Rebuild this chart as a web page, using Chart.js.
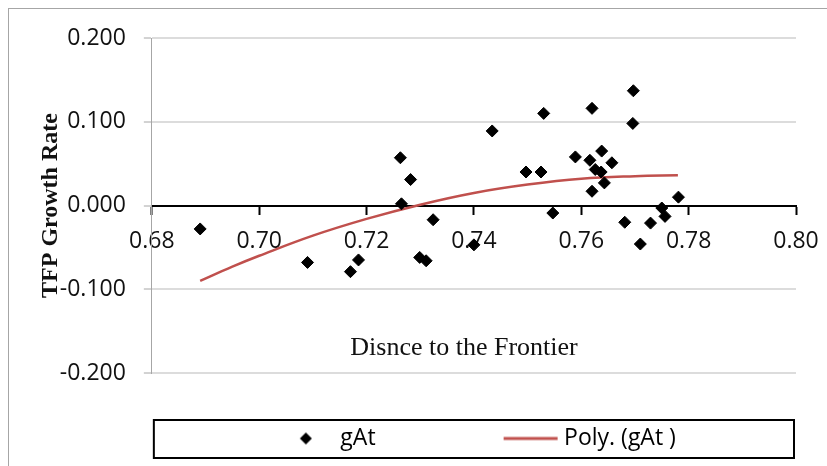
<!DOCTYPE html>
<html>
<head>
<meta charset="utf-8">
<script src="https://cdn.jsdelivr.net/npm/chart.js@4.4.1/dist/chart.umd.min.js"></script>
<style>
  html, body { margin: 0; padding: 0; background: #fff; }
  #wrap { width: 827px; height: 466px; }
</style>
</head>
<body>
<div id="wrap"><canvas id="tfpChart" width="827" height="466"></canvas></div>
<script>
// distance to the frontier (x) and TFP growth rate (y), one entry per observation
const distance = [0.689, 0.709, 0.717, 0.7185, 0.7263, 0.7265, 0.7282, 0.7299, 0.7311, 0.7324,
                  0.740, 0.7434, 0.7497, 0.7525, 0.7530, 0.7547, 0.7589, 0.7616, 0.7620, 0.7620,
                  0.7638, 0.7657, 0.7626, 0.7637, 0.7643, 0.7681, 0.7697, 0.7696, 0.7710, 0.7729,
                  0.7750, 0.7756, 0.7781];
const growth = [-0.028, -0.068, -0.079, -0.065, 0.057, 0.002, 0.031, -0.062, -0.066, -0.017,
                -0.047, 0.089, 0.040, 0.040, 0.110, -0.009, 0.058, 0.054, 0.116, 0.017,
                0.065, 0.051, 0.043, 0.040, 0.027, -0.020, 0.137, 0.098, -0.046, -0.021,
                -0.003, -0.013, 0.010];

// polynomial trend line as drawn in the figure
const trendX = [0.689, 0.695, 0.700, 0.710, 0.720, 0.730, 0.740, 0.750, 0.760, 0.770, 0.778];
const trendY = [-0.090, -0.073, -0.060, -0.036, -0.016, 0.001, 0.015, 0.025, 0.032, 0.035, 0.036];

const seriesNames = ['gAt', 'Poly. (gAt )'];
const xTicks = [0.68, 0.70, 0.72, 0.74, 0.76, 0.78, 0.80];
const yTicks = [-0.2, -0.1, 0, 0.1, 0.2];
const axisTitles = ['Disnce to the Frontier', 'TFP Growth Rate'];

const sans = "'Open Sans', sans-serif";
const trendColor = '#C0504D';

// legend icons (diamond / short line), drawn into small canvases
function legendIcon(kind) {
    const c = document.createElement('canvas');
    const g = c.getContext('2d');
    if (kind === 'diamond') {
        c.width = 123; c.height = 16;
        g.fillStyle = '#000';
        g.beginPath();
        g.moveTo(100 - 6, 8); g.lineTo(100, 2); g.lineTo(100 + 6, 8); g.lineTo(100, 14);
        g.closePath();
        g.fill();
    } else {
        c.width = 139; c.height = 16;
        g.strokeStyle = trendColor;
        g.lineWidth = 3;
        g.beginPath();
        g.moveTo(82, 8); g.lineTo(136, 8);
        g.stroke();
    }
    return c;
}

const decorations = {
    id: 'decorations',
    beforeDraw(chart) {
        const ctx = chart.ctx;
        ctx.save();
        ctx.fillStyle = '#fff';
        ctx.fillRect(0, 0, chart.width, chart.height);
        ctx.strokeStyle = '#a6a6a6';
        ctx.lineWidth = 1;
        ctx.strokeRect(8.5, 8.5, chart.width + 10, chart.height + 10);
        ctx.restore();
    },
    afterDraw(chart) {
        const {ctx, chartArea} = chart;
        const hb = chart.legend.legendHitBoxes[0];
        const mid = hb.top + hb.height / 2;
        ctx.save();
        // box round the legend
        ctx.strokeStyle = '#000';
        ctx.lineWidth = 2;
        ctx.strokeRect(chartArea.left + 2, Math.round(mid) - 19, chartArea.right - chartArea.left - 4, 38);
        // x axis title sits inside the plot, below the axis
        ctx.font = '26px "Liberation Serif"';
        ctx.fillStyle = '#111';
        ctx.textAlign = 'center';
        ctx.textBaseline = 'alphabetic';
        ctx.fillText(axisTitles[0], 464, 355);
        ctx.restore();
    }
};

const ctx = document.getElementById('tfpChart').getContext('2d');
new Chart(ctx, {
    type: 'scatter',
    data: {
        datasets: [{
            label: seriesNames[0],
            data: distance.map((d, i) => ({x: d, y: growth[i]})),
            pointStyle: 'rectRot',
            pointRadius: 6,
            pointBorderWidth: 1,
            backgroundColor: '#000',
            borderColor: '#000',
            order: 1
        }, {
            label: seriesNames[1],
            data: trendX.map((d, i) => ({x: d, y: trendY[i]})),
            showLine: true,
            pointRadius: 0,
            borderColor: trendColor,
            borderWidth: 2.5,
            tension: 0.4,
            order: 2
        }]
    },
    options: {
        responsive: false,
        animation: false,
        devicePixelRatio: 1,
        layout: {
            padding: {left: 36, right: 31, top: 38, bottom: 6}
        },
        plugins: {
            tooltip: {enabled: false},
            legend: {
                position: 'bottom',
                align: 'start',
                fullSize: false,
                labels: {
                    usePointStyle: true,
                    pointStyleWidth: 123,
                    padding: 54,
                    color: '#111',
                    font: {family: sans, size: 23},
                    generateLabels: function(chart) {
                        return [{
                            text: seriesNames[0], pointStyle: legendIcon('diamond'),
                            fillStyle: '#000', strokeStyle: '#000', lineWidth: 0, hidden: false, datasetIndex: 0
                        }, {
                            text: seriesNames[1], pointStyle: legendIcon('line'),
                            fillStyle: trendColor, strokeStyle: trendColor, lineWidth: 0, hidden: false, datasetIndex: 1
                        }];
                    }
                }
            }
        },
        scales: {
            x: {
                type: 'linear',
                position: {y: 0},
                min: xTicks[0],
                max: xTicks[xTicks.length - 1],
                afterBuildTicks: scale => { scale.ticks = xTicks.map(v => ({value: v})); },
                // let the layout padding decide the right edge of the plot
                afterFit: scale => { scale.paddingRight = 0; },
                grid: {drawOnChartArea: false, tickLength: 8, tickColor: '#000', tickWidth: 2},
                border: {color: '#000', width: 2},
                ticks: {
                    padding: 14,
                    color: '#111',
                    font: {family: sans, size: 23},
                    maxRotation: 0,
                    callback: v => v.toFixed(2)
                }
            },
            y: {
                min: yTicks[0],
                max: yTicks[yTicks.length - 1],
                afterBuildTicks: scale => { scale.ticks = yTicks.map(v => ({value: v})); },
                grid: {color: '#dcdcdc', lineWidth: 2, tickLength: 8, tickColor: '#a6a6a6', tickWidth: 1},
                border: {color: '#a6a6a6', width: 1},
                ticks: {
                    padding: 18,
                    color: '#111',
                    font: {family: sans, size: 23},
                    callback: v => v.toFixed(3)
                },
                title: {
                    display: true,
                    text: axisTitles[1],
                    color: '#111',
                    padding: {top: 0, bottom: -23},
                    font: {family: 'Liberation Serif', size: 24, weight: 'bold'}
                }
            }
        }
    },
    plugins: [decorations]
});
</script>
</body>
</html>
